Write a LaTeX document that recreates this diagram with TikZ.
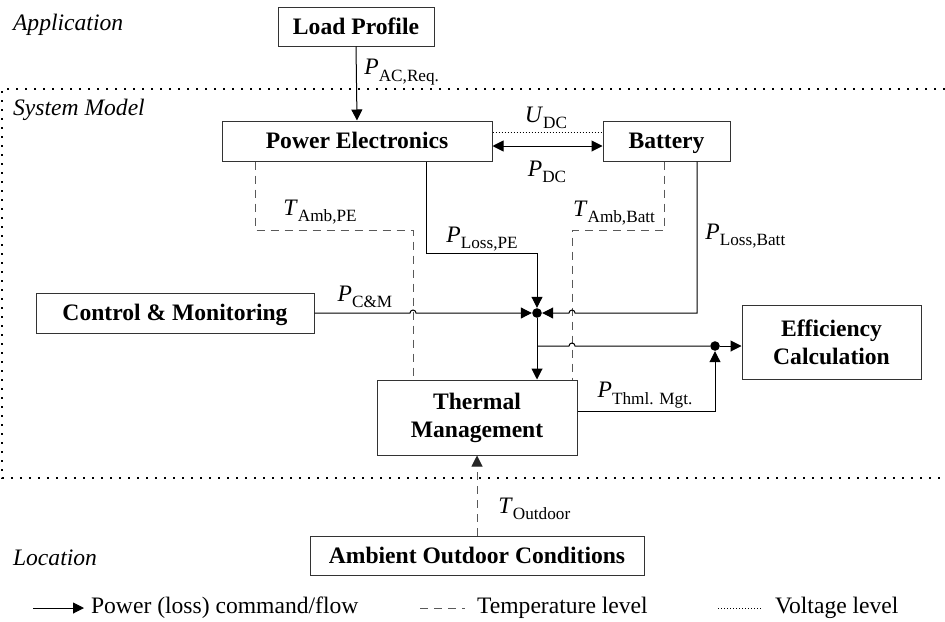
\documentclass[tikz,border=0pt]{standalone}
\usepackage{fontspec}
\setmainfont{Liberation Serif}
\usepackage{tikz}
\usetikzlibrary{arrows.meta,positioning,calc}

\newcommand{\varsub}[2]{\textit{#1}\raisebox{-0.28em}{\fontsize{8.6pt}{9pt}\selectfont #2}}

\begin{document}
\begin{tikzpicture}[x=0.5pt, y=-0.5pt,
    every node/.style={font=\fontsize{11.8pt}{13.5pt}\selectfont},
    blk/.style={rectangle, draw=black!80, line width=0.5pt, inner sep=2pt,
        text centered, align=center, font=\fontsize{11.8pt}{14pt}\selectfont\bfseries},
    oneline/.style={blk, text height=9.5pt, text depth=1.7pt},
    dot/.style={circle, fill=black, inner sep=0pt, minimum size=4.8pt},
    line/.style={draw, line width=0.5pt, -{Triangle[length=5.5pt,width=5.5pt]}},
    temp/.style={draw, line width=0.5pt, black!65, dash pattern=on 4pt off 3pt},
    volt/.style={draw, line width=0.35pt, dash pattern=on 0.5pt off 1pt},
    frame/.style={draw, line width=0.9pt, dash pattern=on 0.9pt off 3.6pt},
    layer/.style={anchor=west, font=\fontsize{11.8pt}{13.5pt}\selectfont\itshape},
    lbl/.style={inner sep=1pt}
]
    \useasboundingbox (0,0) rectangle (945,621);

    % layers
    \node[layer] (app) at (6,25) {Application};
    \node[layer] (sys) at (6,110) {System Model};
    \node[layer] (loc) at (6,558) {Location};
    \path[frame] (945,89) -- (2,89) -- (2,478) -- (945,478);

    % blocks
    \node[oneline, minimum width=78pt, minimum height=19.5pt] (load) at (356,26.5) {Load Profile};
    \node[oneline, minimum width=135pt, minimum height=20pt] (pe) at (357,141) {Power Electronics};
    \node[oneline, minimum width=63.5pt, minimum height=20pt] (batt) at (666.5,141) {Battery};
    \node[oneline, minimum width=139pt, minimum height=20pt] (cm) at (175,313) {Control \& Monitoring};
    \node[blk, minimum width=89.5pt, minimum height=37pt] (eff) at (831.5,342) {Efficiency\\Calculation};
    \node[blk, minimum width=100pt, minimum height=37.5pt] (tm) at (477,417.5) {Thermal\\Management};
    \node[oneline, minimum width=167pt, minimum height=19.5pt] (amb) at (477,555.5) {Ambient Outdoor Conditions};

    % junctions and corners
    \node[dot] (j1) at (537,313) {};
    \node[dot] (j2) at (715,346) {};
    \coordinate (tpe) at (255,230);
    \coordinate (tpe2) at (413,230);
    \coordinate (tb) at (664,230);
    \coordinate (tb2) at (572,230);
    \coordinate (lpe) at (426,253);
    \coordinate (lb) at (697,313);
    \coordinate (tmo) at (715,411);

    % labels
    \node[lbl, anchor=west] (pac) at (362,72) {\varsub{P}{AC,Req.}};
    \node[lbl] (udc) at (546,118) {\varsub{U}{DC}};
    \node[lbl] (pdc) at (547,172) {\varsub{P}{DC}};
    \node[lbl] (tape) at (320,212) {\varsub{T}{Amb,PE}};
    \node[lbl] (plpe) at (482,239) {\varsub{P}{Loss,PE}};
    \node[lbl] (tabatt) at (614,213) {\varsub{T}{Amb,Batt}};
    \node[lbl, anchor=west] (plbatt) at (703,236) {\varsub{P}{Loss,Batt}};
    \node[lbl] (pcm) at (365,297) {\varsub{P}{C\&M}};
    \node[lbl] (pthml) at (645,395) {\varsub{P}{Thml. Mgt.}};
    \node[lbl, anchor=west] (tout) at (496,509) {\varsub{T}{Outdoor}};

    % temperature
    \path[temp] (pe.south -| tpe) -- (tpe) -- (tpe2) -- (tpe2 |- tm.north);
    \path[temp] (batt.south -| tb) -- (tb) -- (tb2) -- (tb2 |- tm.north);
    \path[temp, -{Triangle[length=5.5pt,width=5.5pt,color=black!85]}] (amb.north) -- (tm.south);

    % voltage and power
    \path[volt] ([yshift=4.5pt]pe.east) -- ([yshift=4.5pt]pe.east -| batt.west);
    \path[line, {Triangle[length=5.5pt,width=5.5pt]}-{Triangle[length=5.5pt,width=5.5pt]}]
        ([yshift=-2.5pt]pe.east) -- ([yshift=-2.5pt]pe.east -| batt.west);
    \path[line] (load.south) -- (pe.north);
    \path[line] (pe.south -| lpe) -- (lpe) -- (lpe -| j1) -- (j1);
    \path[line] (batt.south -| lb) -- (lb) -- ([xshift=1.5pt]lb -| tb2)
        arc[start angle=0, end angle=180, radius=1.5pt] -- (j1);
    \path[line] (cm.east) -- ([xshift=-1.5pt]cm.east -| tpe2)
        arc[start angle=180, end angle=0, radius=1.5pt] -- (j1);
    \path[line] (j1) -- (j1 |- tm.north);
    \path[draw, line width=0.5pt] (j1 |- j2) -- ([xshift=-1.5pt]j2 -| tb2)
        arc[start angle=180, end angle=0, radius=1.5pt] -- (j2);
    \path[line] (j2) -- (j2 -| eff.west);
    \path[line] (tmo -| tm.east) -- (tmo) -- (j2);

    % legend
    \coordinate (lga) at (33,608);
    \node[anchor=west] (lg1) at (84,608) {Power (loss) command/flow};
    \path[line] (lga) -- (lg1.west);
    \coordinate (lgb) at (420,608);
    \node[anchor=west] (lg2) at (470,608) {Temperature level};
    \path[temp] (lgb) -- ([xshift=-2.5pt]lg2.west);
    \coordinate (lgc) at (718,608);
    \node[anchor=west] (lg3) at (768,608) {Voltage level};
    \path[volt] (lgc) -- ([xshift=-2.5pt]lg3.west);
\end{tikzpicture}
\end{document}
